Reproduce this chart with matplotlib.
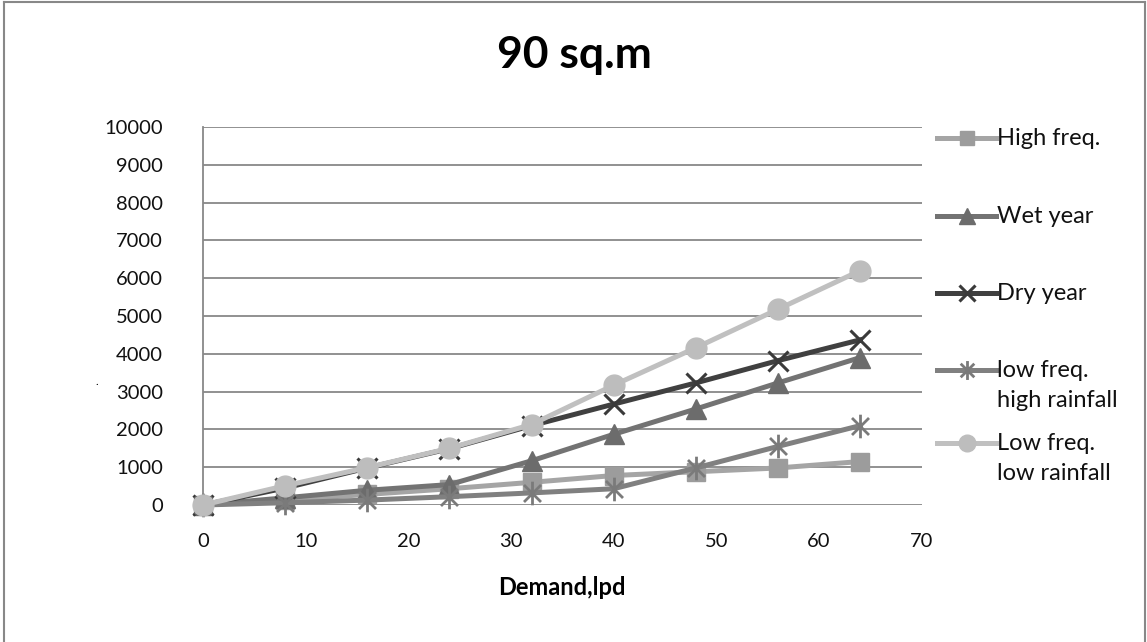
import matplotlib
matplotlib.use("Agg")
import matplotlib.pyplot as plt
from matplotlib.path import Path
from matplotlib.lines import Line2D

plt.rcParams['font.family'] = ['Lato', 'DejaVu Sans']

# demand (lpd)
demand = [0, 8, 16, 24, 32, 40, 48, 56, 64]

high_freq = [0, 130, 280, 430, 600, 780, 880, 980, 1150]
wet_year = [0, 190, 390, 540, 1170, 1870, 2540, 3230, 3900]
dry_year = [0, 450, 980, 1490, 2100, 2670, 3230, 3820, 4370]
low_freq_high_rain = [0, 60, 130, 220, 320, 430, 980, 1550, 2100]
low_freq_low_rain = [0, 510, 990, 1500, 2130, 3170, 4160, 5180, 6200]

labels = ["High freq.", "Wet year", "Dry year", "low freq.\nhigh rainfall", "Low freq.\nlow rainfall"]
y_ticks = list(range(0, 10001, 1000))
x_ticks = list(range(0, 71, 10))

# asterisk marker: vertical stroke plus an x
star = Path([(0, -1), (0, 1), (-0.72, -0.72), (0.72, 0.72), (-0.72, 0.72), (0.72, -0.72)],
            [Path.MOVETO, Path.LINETO, Path.MOVETO, Path.LINETO, Path.MOVETO, Path.LINETO])

styles = [
    dict(color="#a5a5a5", marker="s", mfc="#9c9c9c", mec="#9c9c9c", ms=13),
    dict(color="#737373", marker="^", mfc="#6c6c6c", mec="#6c6c6c", ms=15),
    dict(color="#404040", marker="x", mfc="none", mec="#3a3a3a", ms=14, mew=2.2),
    dict(color="#808080", marker=star, mfc="none", mec="#7a7a7a", ms=17, mew=2.0),
    dict(color="#c0c0c0", marker="o", mfc="#bdbdbd", mec="#bdbdbd", ms=15),
]
series = [high_freq, wet_year, dry_year, low_freq_high_rain, low_freq_low_rain]

fig = plt.figure(figsize=(11.47, 6.42), dpi=100)
ax = fig.add_axes([0.177, 0.2134, 0.6265, 0.5886])

for vals, st in zip(series, styles):
    ax.plot(demand, vals, lw=3.6, clip_on=False, zorder=3, **st)

ax.set_xlim(0, 70)
ax.set_ylim(0, 10000)
ax.set_xticks(x_ticks)
ax.set_yticks(y_ticks)
ax.tick_params(length=0, labelsize=14.5, labelcolor="#111111")
ax.tick_params(axis="y", pad=29)
ax.tick_params(axis="x", pad=20)
ax.grid(axis="y", color="#888888", lw=1.3)
ax.set_axisbelow(True)
for s in ["top", "right", "bottom"]:
    ax.spines[s].set_visible(False)
ax.spines["left"].set_color("#888888")
ax.spines["left"].set_linewidth(1.3)
ax.set_xlabel("Demand,lpd", fontsize=17, fontweight="bold", labelpad=19)

fig.text(0.501, 0.914, "90 sq.m", ha="center", va="center", fontsize=32, fontweight="bold")
fig.text(0.084, 0.40, ".", fontsize=8, ha="center")

# legend drawn by hand so the handle sits on the first text line
leg_y = [138, 216, 293, 370, 443]
for lab, st, yp in zip(labels, styles, leg_y):
    yf = 1 - yp / 642
    fig.add_artist(Line2D([937 / 1147, 996 / 1147], [yf, yf], transform=fig.transFigure,
                          lw=3.6, color=st["color"]))
    fig.add_artist(Line2D([966.5 / 1147], [yf], transform=fig.transFigure, ls="none",
                          marker=st["marker"], mfc=st["mfc"], mec=st["mec"],
                          ms=st["ms"] * 0.8, mew=st.get("mew", 1.0)))
    fig.text(997 / 1147, yf + 10 / 642, lab, ha="left", va="top", fontsize=17,
             linespacing=1.55, color="#111111")

# outer chart frame
for xs, ys in [([0.0035, 0.0035], [0, 0.997]), ([0.0035, 0.998], [0.997, 0.997]), ([0.998, 0.998], [0, 0.997])]:
    fig.add_artist(Line2D(xs, ys, transform=fig.transFigure, color="#888888", lw=1.5))

fig.savefig("out.png", dpi=100)
